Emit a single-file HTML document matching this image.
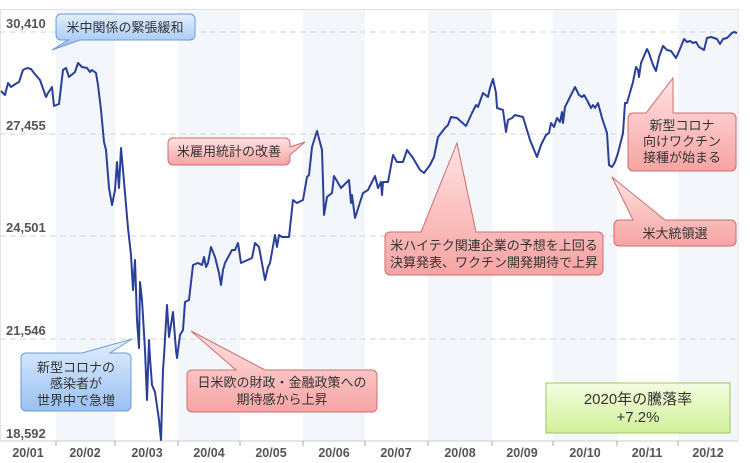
<!DOCTYPE html>
<html><head><meta charset="utf-8"><style>
html,body{margin:0;padding:0;background:#fff;}
svg{display:block;font-family:"Liberation Sans","Noto Sans CJK JP",sans-serif;}
</style></head><body>
<svg width="750" height="463" viewBox="0 0 750 463" xmlns="http://www.w3.org/2000/svg">
<defs>
<linearGradient id="rg" x1="0" y1="0" x2="0" y2="1"><stop offset="0" stop-color="#ffe3e3"/><stop offset="1" stop-color="#f7a3a3"/></linearGradient>
<linearGradient id="bg" x1="0" y1="0" x2="0" y2="1"><stop offset="0" stop-color="#e3efff"/><stop offset="1" stop-color="#98c0f2"/></linearGradient>
<linearGradient id="gg" x1="0" y1="0" x2="0" y2="1"><stop offset="0" stop-color="#f4fde0"/><stop offset="1" stop-color="#d2f19a"/></linearGradient>
</defs>
<rect x="0" y="0" width="750" height="463" fill="#fff"/>
<g fill="#f3f6fb">
<rect x="56" y="9" width="59" height="432"/>
<rect x="178" y="9" width="62" height="432"/>
<rect x="303" y="9" width="62" height="432"/>
<rect x="428" y="9" width="64" height="432"/>
<rect x="553" y="9" width="64" height="432"/>
<rect x="678" y="9" width="60" height="432"/>
</g>
<rect x="0.5" y="9.5" width="737.5" height="431.5" fill="none" stroke="#e2e2e2"/>
<g stroke="#d6d6d6" stroke-dasharray="6,4">
<line x1="0" y1="32" x2="738" y2="32"/>
<line x1="0" y1="134" x2="738" y2="134"/>
<line x1="0" y1="236" x2="738" y2="236"/>
<line x1="0" y1="339" x2="738" y2="339"/>
</g>
<line x1="0" y1="441" x2="738" y2="441" stroke="#ccc"/>
<g stroke="#aaa"><line x1="56" y1="441" x2="56" y2="446"/><line x1="115" y1="441" x2="115" y2="446"/><line x1="178" y1="441" x2="178" y2="446"/><line x1="240" y1="441" x2="240" y2="446"/><line x1="303" y1="441" x2="303" y2="446"/><line x1="365" y1="441" x2="365" y2="446"/><line x1="428" y1="441" x2="428" y2="446"/><line x1="492" y1="441" x2="492" y2="446"/><line x1="553" y1="441" x2="553" y2="446"/><line x1="617" y1="441" x2="617" y2="446"/><line x1="678" y1="441" x2="678" y2="446"/></g>
<g font-size="13" font-weight="bold" fill="#555">
<text x="6" y="28">30,410</text><text x="6" y="130">27,455</text><text x="6" y="232">24,501</text><text x="6" y="335">21,546</text><text x="6" y="438">18,592</text>
</g>
<g font-size="12.5" font-weight="bold" fill="#555" text-anchor="middle">
<text x="28" y="457">20/01</text><text x="85" y="457">20/02</text><text x="147" y="457">20/03</text><text x="209" y="457">20/04</text><text x="271" y="457">20/05</text><text x="334" y="457">20/06</text><text x="396" y="457">20/07</text><text x="460" y="457">20/08</text><text x="522" y="457">20/09</text><text x="585" y="457">20/10</text><text x="647" y="457">20/11</text><text x="708" y="457">20/12</text>
</g>
<polyline fill="none" stroke="#2b3f99" stroke-width="2" stroke-linejoin="round" points="1,91 5,95 8,83 11,87 17,83 19,82 23,70 27,68 31,69 34,73 40,80 46,97 48,93 52,87 54,106 59,104 63,70 66,68 69,77 75,72 78,63 82,67 87,68 90,72 92,70 96,73 98,85 101,110 104,142 106,150 109,188 112,205 115,190 117,162 119,188 121,148 123,170 126,205 128,228 131,255 133,290 135,260 137,320 139,348 140,282 142,300 145,350 147,400 149,340 150,358 152,385 155,392 159,420 161,440 163,370 164,356 167,305 169,337 173,312 176,350 177,358 180,335 183,330 185,302 189,300 193,265 198,263 202,265 204,257 206,267 208,263 211,247 215,257 219,273 221,285 223,270 225,263 232,250 235,250 238,243 241,263 252,258 255,243 259,247 265,280 268,267 270,263 275,235 277,247 279,235 282,237 289,237 293,200 297,203 303,200 307,177 309,175 312,147 317,131 322,150 324,215 327,197 332,193 334,176 341,188 349,180 351,203 352,195 355,218 363,193 368,190 375,176 378,188 381,182 382,195 383,182 388,182 393,155 397,162 403,162 407,150 413,158 420,170 424,173 430,165 434,157 438,137 445,128 448,125 451,117 457,118 466,126 472,113 476,105 478,107 483,93 488,97 490,88 493,79 496,93 497,108 503,110 506,132 508,120 512,118 515,115 523,117 530,140 537,157 541,145 546,135 549,133 551,123 554,127 557,118 560,122 562,112 563,123 565,107 570,97 575,87 579,95 582,97 584,95 587,100 591,108 593,105 595,108 598,103 602,118 607,133 609,165 612,167 615,162 618,153 623,133 625,103 627,103 633,82 636,67 638,70 639,77 641,63 647,49 649,53 653,65 656,71 659,57 663,46 667,50 671,51 676,58 680,49 684,39 687,42 690,41 693,43 696,42 699,47 704,50 707,38 711,37 717,39 720,44 723,39 727,38 732,33 734,32 737,33"/>
<g font-size="13" fill="#333" text-anchor="middle">
<path d="M61,14 H190 a5,5 0 0 1 5,5 V35 a5,5 0 0 1 -5,5 H80 L52,50 L68,40 H61 a5,5 0 0 1 -5,-5 V19 a5,5 0 0 1 5,-5 Z" fill="url(#bg)" stroke="#6f9bd6"/>
<text x="125" y="32">米中関係の緊張緩和</text>
<path d="M173,138 H285 a5,5 0 0 1 5,5 V147 L305,142 L290,155 V160 a5,5 0 0 1 -5,5 H173 a5,5 0 0 1 -5,-5 V143 a5,5 0 0 1 5,-5 Z" fill="url(#rg)" stroke="#cf6d6d"/>
<text x="229" y="156">米雇用統計の改善</text>
<path d="M26,353 H82 L132,339 L110,353 H126 a5,5 0 0 1 5,5 V406 a5,5 0 0 1 -5,5 H26 a5,5 0 0 1 -5,-5 V358 a5,5 0 0 1 5,-5 Z" fill="url(#bg)" stroke="#6f9bd6"/>
<text x="76" y="372">新型コロナの</text><text x="76" y="388">感染者が</text><text x="76" y="405">世界中で急増</text>
<path d="M192,370 H236 L191,331 L265,370 H372 a5,5 0 0 1 5,5 V407 a5,5 0 0 1 -5,5 H192 a5,5 0 0 1 -5,-5 V375 a5,5 0 0 1 5,-5 Z" fill="url(#rg)" stroke="#cf6d6d"/>
<text x="282" y="387">日米欧の財政・金融政策への</text><text x="282" y="404">期待感から上昇</text>
<path d="M390,232 H421 L457,143 L476,232 H598 a5,5 0 0 1 5,5 V270 a5,5 0 0 1 -5,5 H390 a5,5 0 0 1 -5,-5 V237 a5,5 0 0 1 5,-5 Z" fill="url(#rg)" stroke="#cf6d6d"/>
<text x="494" y="250">米ハイテク関連企業の予想を上回る</text><text x="494" y="267">決算発表、ワクチン開発期待で上昇</text>
<path d="M619,220 H633 L612,177 L665,220 H731 a5,5 0 0 1 5,5 V241 a5,5 0 0 1 -5,5 H619 a5,5 0 0 1 -5,-5 V225 a5,5 0 0 1 5,-5 Z" fill="url(#rg)" stroke="#cf6d6d"/>
<text x="675" y="238">米大統領選</text>
<path d="M633,113 H646 L673,78 L673,113 H731 a5,5 0 0 1 5,5 V166 a5,5 0 0 1 -5,5 H633 a5,5 0 0 1 -5,-5 V118 a5,5 0 0 1 5,-5 Z" fill="url(#rg)" stroke="#cf6d6d"/>
<text x="682" y="130">新型コロナ</text><text x="682" y="146">向けワクチン</text><text x="682" y="162">接種が始まる</text>
<rect x="546" y="383" width="184" height="50" fill="url(#gg)" stroke="#9cc95a"/>
<text x="638" y="404" font-size="15">2020年の騰落率</text><text x="638" y="422" font-size="15">+7.2%</text>
</g>
</svg>
</body></html>
